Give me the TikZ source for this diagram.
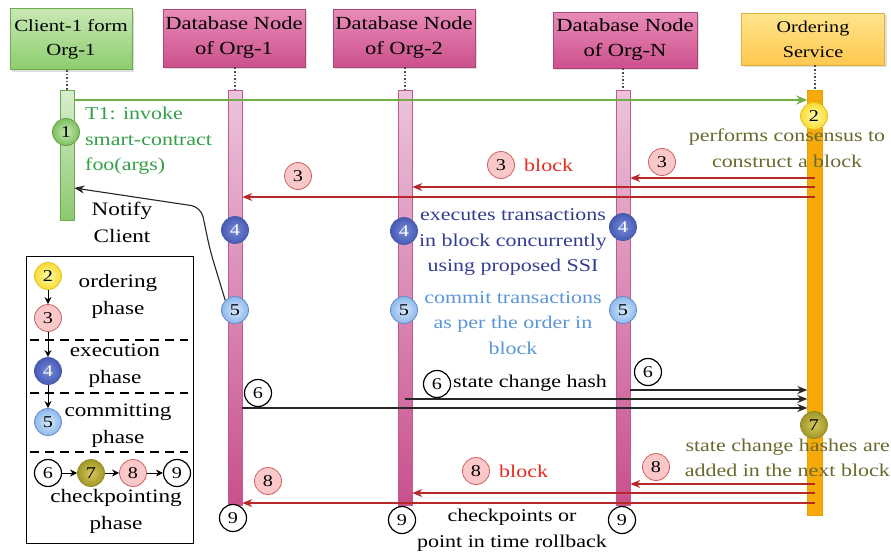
\documentclass[tikz,border=0pt]{standalone}
\usepackage{fontspec}
\setmainfont{Liberation Serif}[FakeStretch=1.22]
\usetikzlibrary{arrows.meta,shadows}
\definecolor{greenline}{RGB}{112,173,71}
\definecolor{greentxt}{RGB}{50,160,70}
\definecolor{redline}{RGB}{185,40,40}
\definecolor{redtxt}{RGB}{230,40,30}
\definecolor{olivetxt}{RGB}{105,105,45}
\definecolor{dbluetxt}{RGB}{50,60,145}
\definecolor{lbluetxt}{RGB}{90,150,215}
\definecolor{pinkc}{RGB}{250,200,200}
\definecolor{pinkcd}{RGB}{205,95,95}
\definecolor{ordorange}{RGB}{245,170,10}
\definecolor{pinkdraw}{RGB}{170,70,120}
\begin{document}
\begin{tikzpicture}[x=1pt,y=-1pt,
  every node/.style={inner sep=0pt},
  hdr/.style={draw, align=center, line width=0.8pt, drop shadow={shadow xshift=2pt,shadow yshift=-2pt,opacity=0.25}},
  hdrgreen/.style={hdr, draw={rgb,255:red,110;green,170;blue,80}, top color={rgb,255:red,200;green,232;blue,180}, bottom color={rgb,255:red,140;green,205;blue,110}, font=\fontsize{17}{24}\selectfont},
  hdrpink/.style={hdr, draw=pinkdraw, top color={rgb,255:red,232;green,140;blue,185}, bottom color={rgb,255:red,205;green,80;blue,140}, font=\fontsize{18.5}{25}\selectfont},
  hdryellow/.style={hdr, draw={rgb,255:red,225;green,175;blue,60}, top color={rgb,255:red,255;green,228;blue,140}, bottom color={rgb,255:red,255;green,200;blue,80}, font=\fontsize{16.5}{25}\selectfont},
  pinkbar/.style={draw={rgb,255:red,190;green,90;blue,140}, line width=0.6pt, top color={rgb,255:red,236;green,195;blue,220}, bottom color={rgb,255:red,200;green,80;blue,140}, minimum width=14pt, minimum height=415pt, anchor=north},
  clientbar/.style={draw={rgb,255:red,110;green,170;blue,80}, line width=0.6pt, top color={rgb,255:red,215;green,238;blue,205}, bottom color={rgb,255:red,140;green,200;blue,110}, minimum width=14pt, minimum height=130pt, anchor=north},
  ordbar/.style={fill=ordorange, draw={rgb,255:red,235;green,160;blue,0}, minimum width=15pt, minimum height=425pt, anchor=north},
  lifeline/.style={dotted, line width=1.6pt, black!70},
  num/.style={circle, minimum size=27pt, font=\fontsize{16.5}{16.5}\selectfont, line width=0.8pt},
  wnum/.style={num, draw=black, fill=white, line width=1.2pt},
  pnum/.style={num, draw=pinkcd, fill=pinkc},
  gnum/.style={num, draw={rgb,255:red,100;green,160;blue,70}, shading=radial, inner color={rgb,255:red,200;green,235;blue,180}, outer color={rgb,255:red,125;green,190;blue,95}},
  ynum/.style={num, draw={rgb,255:red,230;green,190;blue,40}, shading=radial, inner color={rgb,255:red,255;green,250;blue,170}, outer color={rgb,255:red,250;green,220;blue,50}},
  bnum/.style={num, draw={rgb,255:red,70;green,90;blue,170}, shading=radial, inner color={rgb,255:red,120;green,140;blue,215}, outer color={rgb,255:red,70;green,90;blue,180}, text=white},
  lbnum/.style={num, draw={rgb,255:red,100;green,140;blue,200}, shading=radial, inner color={rgb,255:red,215;green,232;blue,250}, outer color={rgb,255:red,140;green,185;blue,235}},
  onum/.style={num, draw={rgb,255:red,150;green,140;blue,40}, shading=radial, inner color={rgb,255:red,215;green,200;blue,90}, outer color={rgb,255:red,160;green,150;blue,40}},
  body/.style={font=\fontsize{18}{25.5}\selectfont, align=center},
  legtext/.style={font=\fontsize{19}{27}\selectfont, align=center},
  greenarr/.style={draw=greenline, line width=1.8pt, -{Stealth[length=11pt,width=9pt]}},
  redarr/.style={draw=redline, line width=1.2pt, -{Stealth[length=10pt,width=8pt]}},
  blackarr/.style={draw=black!85, line width=1.1pt, -{Stealth[length=10pt,width=8pt]}},
  legarr/.style={draw=black, line width=1pt, -{Stealth[length=7pt,width=7pt]}},
  legdash/.style={draw=black, line width=1.8pt, dash pattern=on 9pt off 6pt}
]
\useasboundingbox (0,0) rectangle (891,552);

% headers
\node[hdrgreen, minimum width=122pt, minimum height=61pt] (hc) at (71,39) {Client-1 form\\Org-1};
\node[hdrpink, minimum width=142pt, minimum height=58pt] (h1) at (234,38) {Database Node\\of Org-1};
\node[hdrpink, minimum width=142pt, minimum height=58pt] (h2) at (404,38) {Database Node\\of Org-2};
\node[hdrpink, minimum width=144pt, minimum height=56pt] (hN) at (625,40) {Database Node\\of Org-N};
\node[hdryellow, minimum width=143pt, minimum height=52pt] (ho) at (813,39) {Ordering\\Service};

% bars
\node[clientbar] (bc) at (67,90) {};
\node[pinkbar] (b1) at (235,90) {};
\node[pinkbar] (b2) at (405,90) {};
\node[pinkbar] (bN) at (623,90) {};
\node[ordbar] (bo) at (815,90) {};

% lifelines
\draw[lifeline] (hc.south -| bc.north) -- (bc.north);
\draw[lifeline] (h1.south -| b1.north) -- (b1.north);
\draw[lifeline] (h2.south -| b2.north) -- (b2.north);
\draw[lifeline] (hN.south -| bN.north) -- (bN.north);
\draw[lifeline] (ho.south -| bo.north) -- (bo.north);

% step 1
\draw[greenarr] (bc.east |- 0,100) -- (bo.west |- 0,100);
\node[gnum] (c1) at (66,132) {1};
\node[body, text=greentxt, align=left, anchor=west] (t1) at (85,141) {T1: invoke\\smart-contract\\foo(args)};

% step 2
\node[ynum] (c2) at (814,116) {2};
\node[body, text=olivetxt] (t2) at (787,148) {performs consensus to\\construct a block};

% step 3
\draw[redarr] (bo.center |- 0,178) -- (bN.east |- 0,178);
\draw[redarr] (bo.center |- 0,187) -- (b2.east |- 0,187);
\draw[redarr] (bo.center |- 0,197) -- (b1.east |- 0,197);
\node[pnum] (c3n) at (662,162) {3};
\node[pnum] (c3b) at (501,165) {3};
\node[body, text=redtxt, anchor=west] (t3) at (524,165) {block};
\node[pnum] (c3a) at (298,176) {3};

% step 4
\node[bnum] (c4a) at (235,230) {4};
\node[bnum] (c4b) at (404,231) {4};
\node[bnum] (c4n) at (623,227) {4};
\node[body, text=dbluetxt] (t4) at (513,242) {executes transactions\\in block concurrently\\using proposed SSI};

% step 5
\node[lbnum] (c5a) at (235,310) {5};
\node[lbnum] (c5b) at (404,310) {5};
\node[lbnum] (c5n) at (623,310) {5};
\node[body, text=lbluetxt] (t5) at (513,323) {commit transactions\\as per the order in\\block};

% notify
\draw[blackarr, rounded corners=10pt] (c5a.north west) -- (210,250) -- (201,207) -- (bc.east |- 0,188);
\node[legtext] (tn) at (122,222) {Notify\\Client};

% step 6
\node[wnum] (c6a) at (258,393) {6};
\node[wnum] (c6b) at (437,384) {6};
\node[wnum] (c6n) at (648,372) {6};
\node[body, anchor=west] (t6) at (453,383) {state change hash};
\draw[blackarr] (bN.east |- 0,390) -- (bo.west |- 0,390);
\draw[blackarr] (b2.center |- 0,399) -- (bo.west |- 0,399);
\draw[blackarr] (b1.east |- 0,408) -- (bo.west |- 0,408);

% step 7
\node[onum] (c7) at (814,425) {7};
\node[body, text=olivetxt, align=right, anchor=east] (t7) at (890,458) {state change hashes are\\added in the next block};

% step 8
\draw[redarr] (bo.center |- 0,484) -- (bN.east |- 0,484);
\draw[redarr] (bo.center |- 0,493) -- (b2.east |- 0,493);
\draw[redarr] (bo.center |- 0,503) -- (b1.east |- 0,503);
\node[pnum] (c8n) at (656,467) {8};
\node[pnum] (c8b) at (476,471) {8};
\node[body, text=redtxt, anchor=west] (t8) at (499,471) {block};
\node[pnum] (c8a) at (268,481) {8};

% step 9
\node[wnum] (c9a) at (233,518) {9};
\node[wnum] (c9b) at (402,520) {9};
\node[wnum] (c9n) at (622,520) {9};
\node[body] (t9) at (512,530) {checkpoints or\\point in time rollback};

% legend
\node[draw, line width=1pt, minimum width=167pt, minimum height=287pt, anchor=north west] (leg) at (26,256) {};
\draw[legdash] (30,340) -- (188,340);
\draw[legdash] (30,393) -- (188,393);
\draw[legdash] (30,452) -- (188,452);
\node[ynum] (l2) at (48,276) {2};
\node[pnum] (l3) at (48,318) {3};
\node[bnum] (l4) at (48,371) {4};
\node[lbnum] (l5) at (48,422) {5};
\node[wnum] (l6) at (48,473) {6};
\node[onum] (l7) at (91,473) {7};
\node[pnum] (l8) at (133,473) {8};
\node[wnum] (l9) at (177,473) {9};
\draw[legarr] (l2) -- (l3);
\draw[legarr] (l3) -- (l4);
\draw[legarr] (l4) -- (l5);
\draw[legarr] (l6) -- (l7);
\draw[legarr] (l7) -- (l8);
\draw[legarr] (l8) -- (l9);
\node[legtext] (lt1) at (118,296) {ordering\\phase};
\node[legtext] (lt2) at (115,366) {execution\\phase};
\node[legtext] (lt3) at (118,426) {committing\\phase};
\node[legtext] (lt4) at (116,511) {checkpointing\\phase};
\end{tikzpicture}
\end{document}
